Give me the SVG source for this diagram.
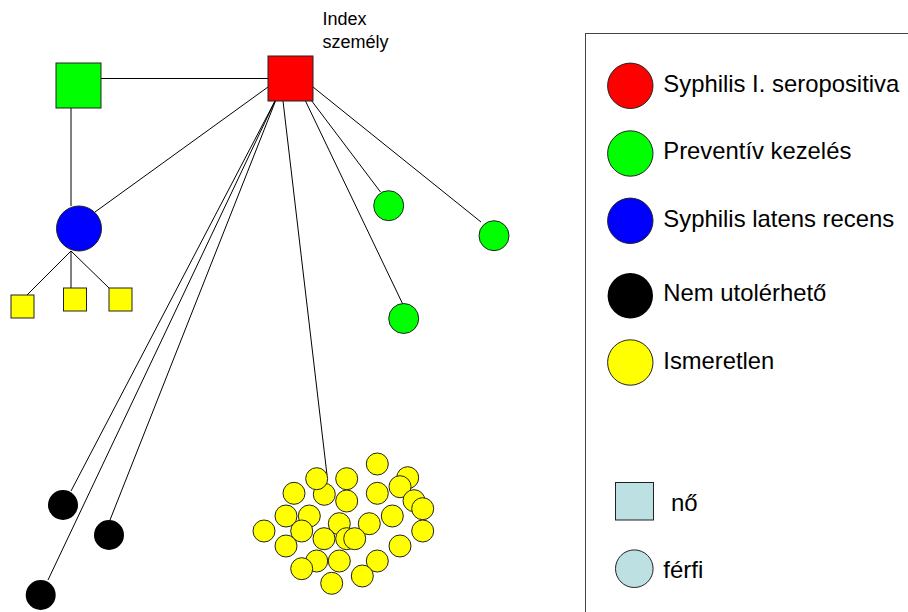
<svg xmlns="http://www.w3.org/2000/svg" width="908" height="612" viewBox="0 0 908 612">
<style>
.ln{stroke:#000;stroke-width:1;fill:none}
.sh{stroke:#222;stroke-width:1}
.red{fill:#ff0000}.grn{fill:#00ff00}.blu{fill:#0000ff}.blk{fill:#000}.yel{fill:#ffff00}.lb{fill:#bde0e3}
.t{font-family:"Liberation Sans",Arial,sans-serif;fill:#000}
.lt{font-size:24px}
</style>
<rect x="0" y="0" width="908" height="612" fill="#fff"/>
<g id="connectors">
<line class="ln" x1="101" y1="78.5" x2="268" y2="78.5"/>
<line class="ln" x1="71" y1="108" x2="71" y2="206"/>
<line class="ln" x1="268" y1="87" x2="95" y2="212"/>
<line class="ln" x1="71" y1="251" x2="27" y2="295"/>
<line class="ln" x1="71" y1="251" x2="71" y2="288"/>
<line class="ln" x1="71" y1="251" x2="109" y2="288"/>
<line class="ln" x1="275" y1="101" x2="71" y2="491"/>
<line class="ln" x1="275" y1="101" x2="48" y2="580"/>
<line class="ln" x1="275.5" y1="101" x2="110" y2="520"/>
<line class="ln" x1="283" y1="101" x2="327" y2="475"/>
<line class="ln" x1="305.5" y1="101" x2="402.7" y2="304"/>
<line class="ln" x1="311" y1="100" x2="380.5" y2="192"/>
<line class="ln" x1="313" y1="87" x2="481" y2="222"/>
</g>
<g id="index">
<rect class="sh red" x="268" y="56" width="45" height="45"/>
<text class="t" x="322.5" y="25" font-size="18">Index</text>
<text class="t" x="322.5" y="48" font-size="18">személy</text>
</g>
<g id="partner"><rect class="sh grn" x="56" y="63" width="45" height="45"/></g>
<g id="blue"><circle class="sh blu" cx="79" cy="228.5" r="22.5"/></g>
<g id="child1"><rect class="sh yel" x="11" y="295" width="23" height="23"/></g>
<g id="child2"><rect class="sh yel" x="63.5" y="288" width="23" height="23"/></g>
<g id="child3"><rect class="sh yel" x="109" y="288" width="23" height="23"/></g>
<g id="green1"><circle class="sh grn" cx="388.7" cy="205.7" r="15"/></g>
<g id="green2"><circle class="sh grn" cx="494" cy="235.7" r="15"/></g>
<g id="green3"><circle class="sh grn" cx="403.7" cy="318.5" r="15"/></g>
<g id="black1"><circle class="blk" cx="63" cy="505" r="15"/></g>
<g id="black2"><circle class="blk" cx="109" cy="535" r="15"/></g>
<g id="black3"><circle class="blk" cx="40.7" cy="595" r="15"/></g>
<g id="cluster">
<circle class="sh yel" cx="377.3" cy="464" r="11"/>
<circle class="sh yel" cx="324.3" cy="494.3" r="11"/>
<circle class="sh yel" cx="316.7" cy="478.7" r="11"/>
<circle class="sh yel" cx="346.7" cy="478.7" r="11"/>
<circle class="sh yel" cx="407.7" cy="477.7" r="11"/>
<circle class="sh yel" cx="400" cy="486.7" r="11"/>
<circle class="sh yel" cx="294" cy="493.3" r="11"/>
<circle class="sh yel" cx="377.3" cy="493.3" r="11"/>
<circle class="sh yel" cx="414" cy="500.7" r="11"/>
<circle class="sh yel" cx="346.7" cy="501" r="11"/>
<circle class="sh yel" cx="422.7" cy="508.7" r="11"/>
<circle class="sh yel" cx="309.3" cy="516" r="11"/>
<circle class="sh yel" cx="286" cy="516" r="11"/>
<circle class="sh yel" cx="392.3" cy="516" r="11"/>
<circle class="sh yel" cx="339.3" cy="523.7" r="11"/>
<circle class="sh yel" cx="369.3" cy="523.7" r="11"/>
<circle class="sh yel" cx="264" cy="531" r="11"/>
<circle class="sh yel" cx="301.7" cy="531" r="11"/>
<circle class="sh yel" cx="422.7" cy="531" r="11"/>
<circle class="sh yel" cx="346.7" cy="538.7" r="11"/>
<circle class="sh yel" cx="324" cy="538.7" r="11"/>
<circle class="sh yel" cx="354.7" cy="538.7" r="11"/>
<circle class="sh yel" cx="286" cy="546" r="11"/>
<circle class="sh yel" cx="400" cy="546" r="11"/>
<circle class="sh yel" cx="316.7" cy="561" r="11"/>
<circle class="sh yel" cx="339.3" cy="561" r="11"/>
<circle class="sh yel" cx="377.3" cy="561" r="11"/>
<circle class="sh yel" cx="301.7" cy="568.7" r="11"/>
<circle class="sh yel" cx="362.3" cy="576" r="11"/>
<circle class="sh yel" cx="331.7" cy="583.3" r="11"/>
</g>
<g id="legend">
<rect x="585.5" y="33.5" width="400" height="700" fill="none" stroke="#444" stroke-width="1"/>
<circle class="sh red" cx="630.3" cy="85.8" r="22.7"/>
<text class="t lt" x="663.3" y="91.7" textLength="236" lengthAdjust="spacingAndGlyphs">Syphilis I. seropositiva</text>
<circle class="sh grn" cx="630.3" cy="153.5" r="22.7"/>
<text class="t lt" x="663.3" y="159" textLength="188" lengthAdjust="spacingAndGlyphs">Preventív kezelés</text>
<circle class="sh blu" cx="630.3" cy="220.8" r="22.7"/>
<text class="t lt" x="663.3" y="227.3" textLength="231" lengthAdjust="spacingAndGlyphs">Syphilis latens recens</text>
<circle class="blk" cx="630.3" cy="295.8" r="22.7"/>
<text class="t lt" x="663.3" y="301" textLength="163" lengthAdjust="spacingAndGlyphs">Nem utolérhető</text>
<circle class="sh yel" cx="630.3" cy="362.5" r="22.7"/>
<text class="t lt" x="663.3" y="369" textLength="111" lengthAdjust="spacingAndGlyphs">Ismeretlen</text>
<rect class="sh lb" x="615.5" y="482.5" width="38" height="37.5"/>
<text class="t lt" x="671" y="510.7">nő</text>
<circle class="sh lb" cx="634.3" cy="568.7" r="18.8"/>
<text class="t lt" x="663.3" y="577.7">férfi</text>
</g>
</svg>
